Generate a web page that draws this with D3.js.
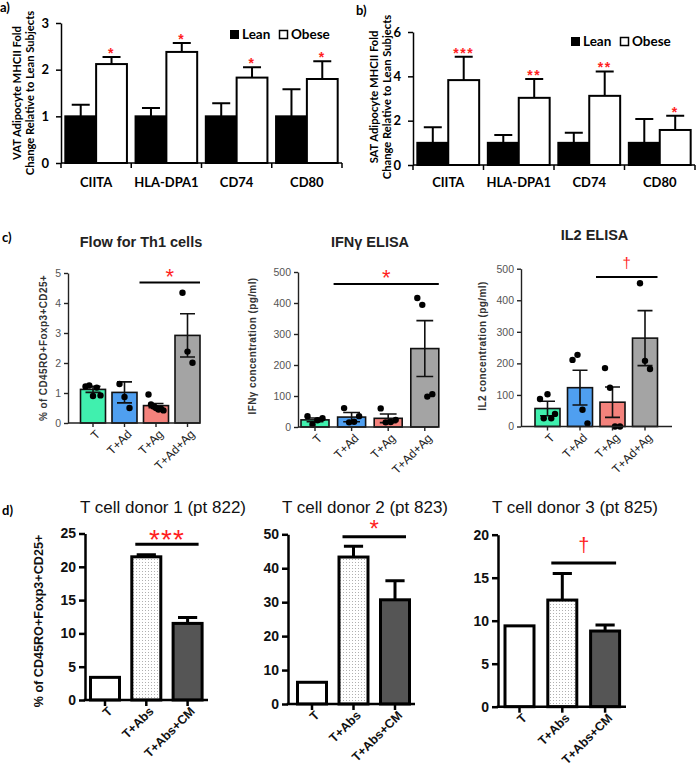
<!DOCTYPE html>
<html><head><meta charset="utf-8">
<script src="https://cdn.jsdelivr.net/npm/d3@7"></script>
<style>body{margin:0;background:#fff}</style>
</head><body>
<script>
// ---------- data ----------
var genes = ["CIITA", "HLA-DPA1", "CD74", "CD80"];
var groupsAB = ["Lean", "Obese"];
var ticksA = [0, 1, 2, 3];
var ticksB = [0, 2, 4, 6];
var vatLean = [1, 1, 1, 1];
var vatLeanErr = [0.25, 0.18, 0.28, 0.58];
var vatObese = [2.12, 2.38, 1.83, 1.80];
var vatObeseErr = [0.15, 0.19, 0.22, 0.38];
var vatStars = ["*", "*", "*", "*"];
var satLean = [1, 1, 1, 1];
var satLeanErr = [0.70, 0.35, 0.45, 1.07];
var satObese = [3.83, 3.03, 3.12, 1.58];
var satObeseErr = [1.05, 0.85, 1.10, 0.64];
var satStars = ["***", "**", "**", "*"];

var condC = ["T", "T+Ad", "T+Ag", "T+Ad+Ag"];
var flowMean = [1.12, 1.02, 0.58, 2.92];
var flowSem = [0.10, 0.35, 0.07, 0.72];
var flowPts = [[1.22, 1.25, 0.90, 1.18, 0.92], [1.30, 0.87, 0.50], [0.95, 0.62, 0.55, 0.50, 0.45, 0.48, 0.42], [4.34, 2.38, 2.01]];
var ifnMean = [23, 32, 28, 253];
var ifnSem = [6, 15, 14, 90];
var ifnPts = [[35, 8, 22, 28], [61, 15, 17, 35], [60, 15, 16, 23], [416, 394, 98, 106]];
var il2Mean = [57, 123, 77, 280];
var il2Sem = [23, 55, 48, 87];
var il2Pts = [[87, 26, 102, 26, 40], [211, 227, 53, 10], [185, 123, 0, 0], [454, 208, 182]];
var ticksFlow = [0, 1, 2, 3, 4, 5];
var ticksElisa = [0, 100, 200, 300, 400, 500];

var condD = ["T", "T+Abs", "T+Abs+CM"];
var donor1Mean = [3.4, 21.5, 11.5];
var donor1Err = [0, 0.3, 0.9];
var donor2Mean = [6.4, 43.3, 30.7];
var donor2Err = [0, 3.2, 5.6];
var donor3Mean = [9.4, 12.4, 8.8];
var donor3Err = [0, 3.1, 0.7];
var ticksD1 = [0, 5, 10, 15, 20, 25];
var ticksD2 = [0, 10, 20, 30, 40, 50];
var ticksD3 = [0, 5, 10, 15, 20];

// ---------- setup ----------
var RED = "#ff1f1f";
var CAL = "Lato, 'Open Sans', sans-serif";
var ARIAL = "'Liberation Sans', Arial, sans-serif";
var fmt = d3.format("d");
var svg = d3.select("body").append("svg")
    .attr("width", 698).attr("height", 770)
    .style("font-family", ARIAL);
var defs = svg.append("defs");
var pat = defs.append("pattern").attr("id", "dots")
    .attr("width", 3).attr("height", 3).attr("patternUnits", "userSpaceOnUse");
pat.append("rect").attr("width", 3).attr("height", 3).attr("fill", "#fff");
pat.append("rect").attr("x", 1).attr("y", 1).attr("width", 1).attr("height", 1).attr("fill", "#b0b0b0");

function band(c0, step, bw, dom) {
    var p = 1 - bw / step;
    return d3.scaleBand().domain(dom)
        .range([c0 - step / 2, c0 - step / 2 + dom.length * step])
        .paddingInner(p).paddingOuter(p / 2);
}

// ---------- panels a / b ----------
function panelAB(o) {
    var g = svg.append("g").style("font-family", CAL).style("font-weight", "bold");
    var x0 = d3.scaleBand().domain(genes).range(o.xr);
    var x1 = d3.scaleBand().domain(groupsAB).range([0, x0.bandwidth()]).paddingOuter(0.14);
    var y = d3.scaleLinear().domain([0, o.ticks[o.ticks.length - 1]]).range(o.yr);
    var rows = [];
    genes.forEach(function (k, i) {
        rows.push({ gene: k, grp: "Lean", v: o.lean[i], e: o.leanErr[i] });
        rows.push({ gene: k, grp: "Obese", v: o.obese[i], e: o.obeseErr[i], star: o.stars[i] });
    });
    var cx = function (d) { return x0(d.gene) + x1(d.grp) + x1.bandwidth() / 2; };
    g.selectAll(".eb").data(rows).enter().append("path")
        .attr("d", function (d) {
            var t = y(d.v + d.e), c = cx(d);
            return "M" + c + "," + y(d.v) + "V" + t + "M" + (c - 9) + "," + t + "H" + (c + 9);
        })
        .attr("stroke", "#000").attr("stroke-width", 2).attr("fill", "none");
    g.selectAll(".bar").data(rows).enter().append("rect")
        .attr("x", function (d) { return x0(d.gene) + x1(d.grp); })
        .attr("y", function (d) { return y(d.v); })
        .attr("width", x1.bandwidth())
        .attr("height", function (d) { return y(0) - y(d.v); })
        .attr("fill", function (d) { return d.grp === "Lean" ? "#000" : "#fff"; })
        .attr("stroke", "#000").attr("stroke-width", 2);
    g.selectAll(".star").data(rows.filter(function (d) { return d.star; })).enter().append("text")
        .attr("x", cx).attr("y", function (d) { return y(d.v + d.e) + 1; })
        .attr("text-anchor", "middle").attr("fill", RED)
        .style("font-family", ARIAL).style("font-size", "14px").style("letter-spacing", "1.5px")
        .text(function (d) { return d.star; });
    // y axis
    var ya = g.append("g").attr("transform", "translate(" + o.xr[0] + ",0)")
        .call(d3.axisLeft(y).tickValues(o.ticks).tickFormat(fmt).tickSize(5).tickSizeOuter(0).tickPadding(7));
    ya.selectAll("path,line").attr("stroke-width", 1.5);
    ya.selectAll("text").style("font-size", "13px").style("font-family", CAL).style("font-weight", "bold").attr("fill", "#000");
    // x axis with ticks between groups
    var bounds = genes.map(function (k) { return x0(k); }).concat([o.xr[1]]);
    g.append("line").attr("x1", o.xr[0]).attr("x2", o.xr[1]).attr("y1", y(0)).attr("y2", y(0))
        .attr("stroke", "#000").attr("stroke-width", 1.5);
    g.selectAll(".xt").data(bounds).enter().append("line")
        .attr("x1", function (d) { return d; }).attr("x2", function (d) { return d; })
        .attr("y1", y(0)).attr("y2", y(0) + 5).attr("stroke", "#000").attr("stroke-width", 1.5);
    g.selectAll(".cat").data(genes).enter().append("text")
        .attr("x", function (k) { return x0(k) + x0.bandwidth() / 2; }).attr("y", 187)
        .attr("text-anchor", "middle").style("font-size", "13px").text(function (k) { return k; });
    // y title
    var yt = g.append("text").attr("transform", "translate(" + o.ytx + "," + o.yty + ") rotate(-90)")
        .attr("text-anchor", "middle").style("font-size", "11.2px");
    yt.append("tspan").attr("x", 0).attr("dy", 0).text(o.ytitle);
    yt.append("tspan").attr("x", 0).attr("dy", 12.5).text("Change Relative to Lean Subjects");
    // legend
    var lg = g.append("g").attr("transform", "translate(" + o.lx + "," + o.ly + ")");
    lg.append("rect").attr("x", 0).attr("y", -9).attr("width", 9).attr("height", 9).attr("fill", "#000");
    lg.append("text").attr("x", 12).attr("y", 0).style("font-size", "13.5px").text("Lean");
    lg.append("rect").attr("x", 49.5).attr("y", -8.5).attr("width", 8).attr("height", 8)
        .attr("fill", "#fff").attr("stroke", "#000").attr("stroke-width", 1.5);
    lg.append("text").attr("x", 61).attr("y", 0).style("font-size", "13.5px").text("Obese");
    g.append("text").attr("x", o.labx).attr("y", o.laby).style("font-size", "13px").text(o.label);
}

panelAB({ xr: [61, 342], yr: [163, 23], ticks: ticksA, lean: vatLean, leanErr: vatLeanErr,
    obese: vatObese, obeseErr: vatObeseErr, stars: vatStars, ytitle: "VAT Adipocyte MHCII Fold",
    ytx: 21, yty: 93, lx: 230, ly: 39, label: "a)", labx: 0, laby: 12 });
panelAB({ xr: [413, 695], yr: [165, 32], ticks: ticksB, lean: satLean, leanErr: satLeanErr,
    obese: satObese, obeseErr: satObeseErr, stars: satStars, ytitle: "SAT Adipocyte MHCII Fold",
    ytx: 378, yty: 97, lx: 571, ly: 46, label: "b)", labx: 356, laby: 15 });

// ---------- panel c ----------
var fillC = ["#40f0ae", "#4f9ff0", "#f4827c", "#a4a4a4"];
function panelC(o) {
    var g = svg.append("g");
    var x = band(o.c0, o.step, o.bw, condC);
    var y = d3.scaleLinear().domain([0, o.ticks[o.ticks.length - 1]]).range(o.yr);
    var rows = condC.map(function (k, i) { return { k: k, m: o.mean[i], s: o.sem[i], pts: o.pts[i], f: fillC[i] }; });
    var cx = function (d) { return x(d.k) + x.bandwidth() / 2; };
    g.selectAll(".bar").data(rows).enter().append("rect")
        .attr("x", function (d) { return x(d.k); }).attr("y", function (d) { return y(d.m); })
        .attr("width", x.bandwidth()).attr("height", function (d) { return y(0) - y(d.m); })
        .attr("fill", function (d) { return d.f; }).attr("stroke", "#111").attr("stroke-width", 1.6);
    var cw = x.bandwidth() * 0.3;
    g.selectAll(".eb").data(rows).enter().append("path")
        .attr("d", function (d) {
            var c = cx(d), t = y(d.m + d.s), b = y(Math.max(0, d.m - d.s));
            return "M" + c + "," + t + "V" + b + "M" + (c - cw) + "," + t + "H" + (c + cw) + "M" + (c - cw) + "," + b + "H" + (c + cw);
        })
        .attr("stroke", "#111").attr("stroke-width", 1.6).attr("fill", "none");
    rows.forEach(function (d) {
        var n = d.pts.length, spread = Math.min(x.bandwidth() * 0.6, (n - 1) * 5);
        g.selectAll(null).data(d.pts).enter().append("circle")
            .attr("cx", function (v, i) { return cx(d) + (n > 1 ? -spread / 2 + i * spread / (n - 1) : 0); })
            .attr("cy", function (v) { return y(v); }).attr("r", 3.2).attr("fill", "#000");
    });
    var ya = g.append("g").attr("transform", "translate(" + o.ax[0] + ",0)")
        .call(d3.axisLeft(y).tickValues(o.ticks).tickFormat(fmt).tickSize(4).tickSizeOuter(0).tickPadding(3));
    ya.selectAll("path,line").attr("stroke", "#222").attr("stroke-width", 1.4);
    ya.selectAll("text").style("font-size", "10.5px").attr("fill", "#555");
    var xa = g.append("g").attr("transform", "translate(0," + y(0) + ")")
        .call(d3.axisBottom(x).tickSize(4).tickSizeOuter(0));
    xa.select(".domain").remove();
    xa.selectAll("line").attr("stroke", "#222").attr("stroke-width", 1.4);
    xa.selectAll("text").attr("text-anchor", "end").attr("fill", "#222")
        .style("font-size", "12px")
        .attr("transform", "translate(5,9) rotate(-45)").attr("dy", "0.35em").attr("y", 0).attr("x", 0);
    g.append("line").attr("x1", o.ax[0]).attr("x2", o.ax[1]).attr("y1", y(0)).attr("y2", y(0))
        .attr("stroke", "#222").attr("stroke-width", 1.4);
    // significance
    var s0 = x(condC[o.sig[0]]) - 4, s1 = x(condC[o.sig[1]]) + x.bandwidth();
    g.append("line").attr("x1", s0).attr("x2", s1).attr("y1", y(o.sigY)).attr("y2", y(o.sigY))
        .attr("stroke", "#000").attr("stroke-width", 2);
    g.append("text").attr("x", (s0 + s1) / 2).attr("y", y(o.sigY) + o.markDy)
        .attr("text-anchor", "middle").attr("fill", RED).style("font-size", o.markSize)
        .text(o.mark);
    g.append("text").attr("x", (o.ax[0] + o.ax[1]) / 2 + o.tdx).attr("y", o.ty)
        .attr("text-anchor", "middle").style("font-size", "14.5px").style("font-weight", "bold")
        .attr("fill", "#222").text(o.title);
    g.append("text").attr("transform", "translate(" + o.ylx + "," + o.yly + ") rotate(-90)")
        .attr("text-anchor", "middle").style("font-size", "10px").style("font-weight", "bold")
        .style("letter-spacing", "0.4px").attr("fill", "#333").text(o.ylab);
}
panelC({ c0: 93, step: 31.5, bw: 25, ax: [68, 200], yr: [423, 273], ticks: ticksFlow,
    mean: flowMean, sem: flowSem, pts: flowPts, sig: [2, 3], sigY: 4.68, mark: "*", markSize: "22px", markDy: 1,
    title: "Flow for Th1 cells", tdx: 7, ty: 247, ylab: "% of CD45RO+Foxp3+CD25+", ylx: 47, yly: 348 });
panelC({ c0: 315, step: 36.6, bw: 28, ax: [298, 438], yr: [427, 272], ticks: ticksElisa,
    mean: ifnMean, sem: ifnSem, pts: ifnPts, sig: [1, 3], sigY: 461, mark: "*", markSize: "22px", markDy: 1,
    title: "IFNγ ELISA", tdx: 2, ty: 247, ylab: "IFNγ concentration (pg/ml)", ylx: 256, yly: 346 });
panelC({ c0: 547.5, step: 32.5, bw: 25, ax: [521, 672], yr: [426.5, 268.7], ticks: ticksElisa,
    mean: il2Mean, sem: il2Sem, pts: il2Pts, sig: [2, 3], sigY: 474, mark: "†", markSize: "15px", markDy: -9,
    title: "IL2 ELISA", tdx: -2, ty: 240, ylab: "IL2 concentration (pg/ml)", ylx: 486, yly: 346 });
svg.append("text").attr("x", 2).attr("y", 242).style("font-family", CAL).style("font-weight", "bold")
    .style("font-size", "13px").text("c)");

// ---------- panel d ----------
var fillD = ["#fff", "url(#dots)", "#555"];
function panelD(o) {
    var g = svg.append("g").style("font-weight", "bold");
    var x = band(o.c0, o.step, o.bw, condD);
    var y = d3.scaleLinear().domain([0, o.ticks[o.ticks.length - 1]]).range(o.yr);
    var rows = condD.map(function (k, i) { return { k: k, m: o.mean[i], e: o.err[i], f: fillD[i] }; });
    var cx = function (d) { return x(d.k) + x.bandwidth() / 2; };
    var cw = x.bandwidth() * 0.3;
    g.selectAll(".eb").data(rows.filter(function (d) { return d.e > 0; })).enter().append("path")
        .attr("d", function (d) {
            var c = cx(d), t = y(d.m + d.e);
            return "M" + c + "," + y(d.m) + "V" + t + "M" + (c - cw) + "," + t + "H" + (c + cw);
        })
        .attr("stroke", "#000").attr("stroke-width", 3).attr("fill", "none");
    g.selectAll(".bar").data(rows).enter().append("rect")
        .attr("x", function (d) { return x(d.k) + 1.5; }).attr("y", function (d) { return y(d.m); })
        .attr("width", x.bandwidth() - 3).attr("height", function (d) { return y(0) - y(d.m); })
        .attr("fill", function (d) { return d.f; }).attr("stroke", "#000").attr("stroke-width", 3);
    var ya = g.append("g").attr("transform", "translate(" + o.ax[0] + ",0)")
        .call(d3.axisLeft(y).tickValues(o.ticks).tickFormat(fmt).tickSize(6).tickSizeOuter(0).tickPadding(3));
    ya.selectAll("path,line").attr("stroke", "#000").attr("stroke-width", 2.5);
    ya.selectAll("text").style("font-size", "14px").style("font-weight", "bold").attr("fill", "#111");
    var xa = g.append("g").attr("transform", "translate(0," + y(0) + ")")
        .call(d3.axisBottom(x).tickSize(6).tickSizeOuter(0));
    xa.select(".domain").remove();
    xa.selectAll("line").attr("stroke", "#000").attr("stroke-width", 2.5);
    xa.selectAll("text").attr("text-anchor", "end").attr("fill", "#111")
        .style("font-size", "12.5px").style("font-weight", "bold")
        .attr("transform", "translate(5,9) rotate(-45)").attr("dy", "0.35em").attr("y", 0).attr("x", 0);
    g.append("line").attr("x1", o.ax[0] - 1.25).attr("x2", o.ax[1]).attr("y1", y(0)).attr("y2", y(0))
        .attr("stroke", "#000").attr("stroke-width", 2.5);
    var s0 = x(condD[1]) + 5, s1 = x(condD[2]) + x.bandwidth() - 5;
    g.append("line").attr("x1", s0).attr("x2", s1).attr("y1", y(o.sigY)).attr("y2", y(o.sigY))
        .attr("stroke", "#000").attr("stroke-width", 3);
    g.append("text").attr("x", (s0 + s1) / 2).attr("y", y(o.sigY) + o.markDy)
        .attr("text-anchor", "middle").attr("fill", RED).style("font-size", o.markSize)
        .style("font-weight", "normal").style("letter-spacing", o.ls || "0px").text(o.mark);
    g.append("text").attr("x", o.tx).attr("y", 513).attr("text-anchor", "middle")
        .style("font-size", "17px").style("font-weight", "normal").attr("fill", "#111").text(o.title);
}
panelD({ c0: 105, step: 41.3, bw: 32, ax: [85, 208], yr: [700, 533.5], ticks: ticksD1,
    mean: donor1Mean, err: donor1Err, sigY: 23.4, mark: "***", markSize: "28px", markDy: 5, ls: "1px",
    title: "T cell donor 1 (pt 822)", tx: 163 });
panelD({ c0: 312, step: 41.5, bw: 32, ax: [288, 415], yr: [704, 534.3], ticks: ticksD2,
    mean: donor2Mean, err: donor2Err, sigY: 49.3, mark: "*", markSize: "24px", markDy: 0,
    title: "T cell donor 2 (pt 823)", tx: 365 });
panelD({ c0: 519.5, step: 42.8, bw: 32, ax: [498, 626], yr: [706.7, 534.7], ticks: ticksD3,
    mean: donor3Mean, err: donor3Err, sigY: 16.7, mark: "†", markSize: "20px", markDy: -11,
    title: "T cell donor 3 (pt 825)", tx: 575 });
svg.append("text").attr("transform", "translate(43,621) rotate(-90)").attr("text-anchor", "middle")
    .style("font-size", "12.6px").style("font-weight", "bold").attr("fill", "#111")
    .text("% of CD45RO+Foxp3+CD25+");
svg.append("text").attr("x", 2).attr("y", 515).style("font-family", CAL).style("font-weight", "bold")
    .style("font-size", "13px").text("d)");
</script>
</body></html>
